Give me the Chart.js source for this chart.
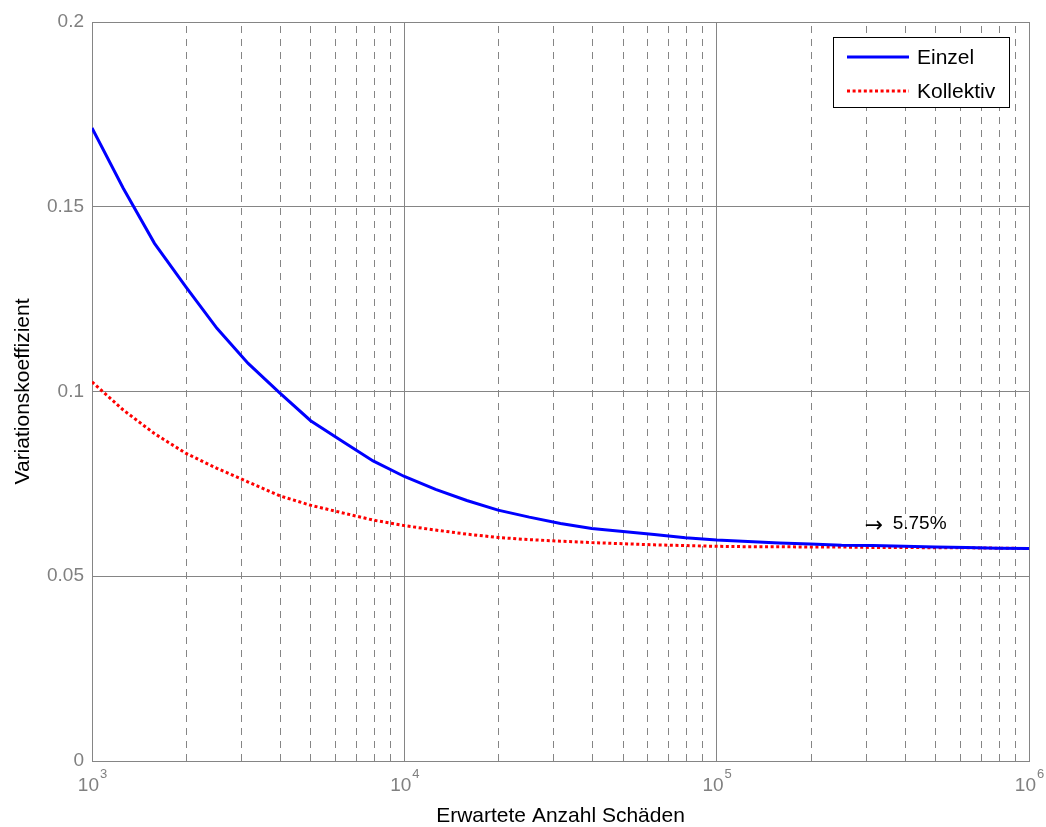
<!DOCTYPE html>
<html>
<head>
<meta charset="utf-8">
<script src="https://cdn.jsdelivr.net/npm/chart.js@4/dist/chart.umd.min.js"></script>
<style>
  html, body { margin: 0; padding: 0; background: #fff; }
  #wrap { width: 1046px; height: 827px; }
</style>
</head>
<body>
<div id="wrap"><canvas id="cvChart"></canvas></div>
<script>
// expected number of claims (log-spaced, 10 steps per decade)
const claims = [
  1000, 1259, 1585, 1995, 2512, 3162, 3981, 5012, 6310, 7943,
  10000, 12589, 15849, 19953, 25119, 31623, 39811, 50119, 63096, 79433,
  100000, 125893, 158489, 199526, 251189, 316228, 398107, 501187, 630957, 794328,
  1000000
];
const einzel = [
  0.1713, 0.1550, 0.1401, 0.1284, 0.1171, 0.1076, 0.0997, 0.0921, 0.0866, 0.0812,
  0.0770, 0.0735, 0.0705, 0.0679, 0.0660, 0.0643, 0.0629, 0.0621, 0.0613, 0.0604,
  0.0598, 0.0594, 0.0590, 0.0587, 0.0584, 0.0583, 0.0581, 0.0579, 0.0578, 0.0576,
  0.0575
];
const kollektiv = [
  0.1026, 0.0950, 0.0886, 0.0833, 0.0792, 0.0755, 0.0718, 0.0692, 0.0672, 0.0652,
  0.0637, 0.0625, 0.0614, 0.0605, 0.0599, 0.0595, 0.0591, 0.0588, 0.0585, 0.0583,
  0.0581, 0.0580, 0.0580, 0.0579, 0.0579, 0.0578, 0.0578, 0.0577, 0.0577, 0.0576,
  0.0575
];
const decades = [1e3, 1e4, 1e5, 1e6];
const decadeLabels = ['3', '4', '5', '6'];
const yTicks = [0, 0.05, 0.1, 0.15, 0.2];

// asymptote note
const limitValue = 0.0575;
const noteAtX = 3e5;
const noteAtY = 0.0641;

const FONT = '"Liberation Sans", Arial, sans-serif';
const GRID = '#858585';
const TICKTXT = '#808080';

// dashed minor grid (2..9 per decade)
const minorGrid = {
  id: 'minorGrid',
  beforeDatasetsDraw(chart) {
    const { ctx, chartArea, scales } = chart;
    ctx.save();
    ctx.strokeStyle = GRID;
    ctx.lineWidth = 1;
    ctx.setLineDash([7, 6]);
    for (const d of decades.slice(0, 3)) {
      for (let k = 2; k <= 9; k++) {
        const px = Math.round(scales.x.getPixelForValue(k * d)) + 0.5;
        ctx.beginPath();
        ctx.moveTo(px, chartArea.bottom);
        ctx.lineTo(px, chartArea.top);
        ctx.stroke();
      }
    }
    ctx.restore();
  }
};

// x tick labels as 10 with raised exponent
const powerLabels = {
  id: 'powerLabels',
  afterDraw(chart) {
    const { ctx, scales } = chart;
    ctx.save();
    ctx.fillStyle = TICKTXT;
    ctx.textBaseline = 'middle';
    decades.forEach((v, i) => {
      const px = scales.x.getPixelForValue(v);
      ctx.font = '19px ' + FONT;
      const wb = ctx.measureText('10').width;
      ctx.font = '13px ' + FONT;
      const we = ctx.measureText(decadeLabels[i]).width;
      const x0 = px - (wb + we) / 2;
      ctx.textAlign = 'left';
      ctx.font = '19px ' + FONT;
      ctx.fillText('10', x0, 786);
      ctx.font = '13px ' + FONT;
      ctx.fillText(decadeLabels[i], x0 + wb + 1, 774);
    });
    ctx.restore();
  }
};

// legend box inside the plot and the 5.75% note
const overlay = {
  id: 'overlay',
  afterDraw(chart) {
    const { ctx, chartArea, scales } = chart;
    ctx.save();
    // note: arrow + limit value
    ctx.fillStyle = '#000';
    ctx.textBaseline = 'middle';
    ctx.textAlign = 'left';
    const nx = scales.x.getPixelForValue(noteAtX);
    const ny = scales.y.getPixelForValue(noteAtY);
    ctx.font = '22px "DejaVu Sans", sans-serif';
    ctx.fillText('\u2192', nx - 1, ny + 2);
    ctx.font = '19px ' + FONT;
    ctx.fillText((limitValue * 100).toFixed(2) + '%', nx + 27, ny);

    // legend
    const bx = chartArea.right - 196, by = chartArea.top + 15, bw = 176, bh = 70;
    ctx.fillStyle = '#fff';
    ctx.fillRect(bx, by, bw, bh);
    ctx.strokeStyle = '#000';
    ctx.lineWidth = 1;
    ctx.setLineDash([]);
    ctx.strokeRect(bx + 0.5, by + 0.5, bw, bh);
    chart.data.datasets.forEach((ds, i) => {
      const ry = by + 20 + i * 34;
      ctx.strokeStyle = ds.borderColor;
      ctx.lineWidth = ds.borderWidth;
      ctx.setLineDash(ds.borderDash || []);
      ctx.beginPath();
      ctx.moveTo(bx + 14, ry);
      ctx.lineTo(bx + 76, ry);
      ctx.stroke();
      ctx.fillStyle = '#000';
      ctx.font = '21px ' + FONT;
      ctx.fillText(ds.label, bx + 84, ry + 1);
    });
    ctx.restore();
  }
};

const ctx = document.getElementById('cvChart').getContext('2d');
const cvChart = new Chart(ctx, {
  type: 'line',
  data: {
    labels: claims,
    datasets: [
      {
        label: 'Einzel',
        data: claims.map((c, i) => ({ x: c, y: einzel[i] })),
        borderColor: '#0000ff',
        borderWidth: 3,
        pointRadius: 0,
        tension: 0,
        fill: false
      },
      {
        label: 'Kollektiv',
        data: claims.map((c, i) => ({ x: c, y: kollektiv[i] })),
        borderColor: '#ff0000',
        borderWidth: 3,
        borderDash: [3, 2.6],
        pointRadius: 0,
        tension: 0,
        fill: false
      }
    ]
  },
  options: {
    responsive: true,
    maintainAspectRatio: false,
    animation: false,
    layout: { padding: { top: 22, right: 17, left: 0, bottom: 0 } },
    plugins: {
      legend: { display: false },
      tooltip: { enabled: false }
    },
    scales: {
      x: {
        type: 'logarithmic',
        min: 1000,
        max: 1e6,
        afterBuildTicks(scale) {
          scale.ticks = decades.map(v => ({ value: v, major: true }));
        },
        afterFit(scale) { scale.height = 66; },
        ticks: { display: false },
        grid: { color: GRID, lineWidth: 1, drawTicks: false },
        border: { color: GRID, width: 1 },
        title: {
          display: true,
          text: 'Erwartete Anzahl Schäden',
          color: '#000',
          font: { family: FONT, size: 21, lineHeight: 1 },
          padding: { top: 0, bottom: 0 }
        }
      },
      y: {
        min: 0,
        max: 0.2,
        afterBuildTicks(scale) {
          scale.ticks = yTicks.map(v => ({ value: v }));
        },
        afterFit(scale) { scale.width = 92; },
        ticks: {
          color: TICKTXT,
          font: { family: FONT, size: 19 },
          padding: 8,
          callback: v => String(Number(v.toFixed(2)))
        },
        grid: { color: GRID, lineWidth: 1, drawTicks: false },
        border: { color: GRID, width: 1 },
        title: {
          display: true,
          text: 'Variationskoeffizient',
          color: '#000',
          font: { family: FONT, size: 21 },
          padding: { top: 11, bottom: 0 }
        }
      }
    }
  },
  plugins: [minorGrid, powerLabels, overlay]
});
</script>
</body>
</html>
